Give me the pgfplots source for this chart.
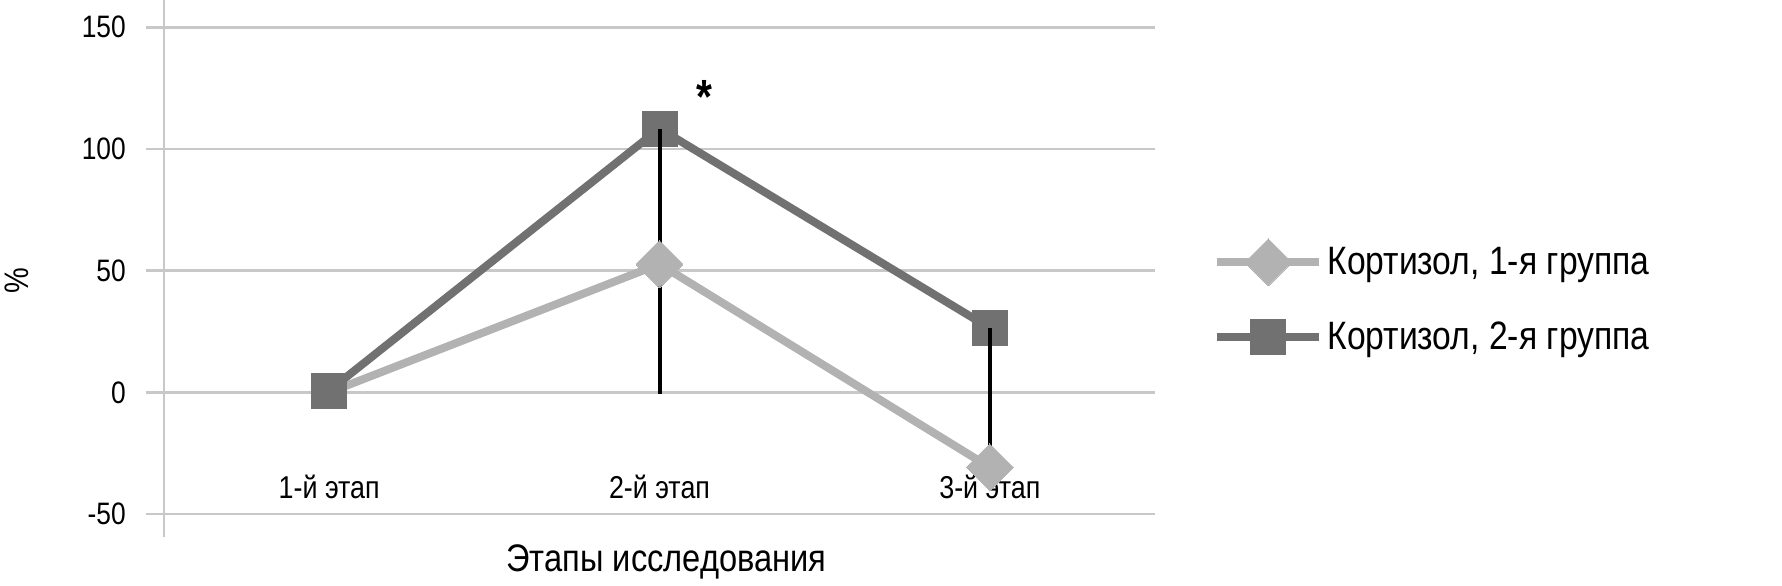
\documentclass[border=0pt]{standalone}
\usepackage{fontspec}
\setmainfont{Liberation Sans}[FakeStretch=0.85]
\usepackage{pgfplots}
\pgfplotsset{compat=1.18}
\definecolor{gridc}{RGB}{200,200,200}
\definecolor{gOne}{RGB}{178,178,178}
\definecolor{gTwo}{RGB}{113,113,113}
\pgfplotsset{
  gOneStyle/.style={gOne, line width=4pt, mark=square*, mark size=8.3pt,
    mark options={rotate=45, draw=gOne, line width=0pt, fill=gOne, solid}},
  gTwoStyle/.style={gTwo, line width=4pt, mark=square*, mark size=8.75pt,
    mark options={draw=gTwo, line width=0pt, fill=gTwo, solid}},
}
\begin{document}
\begin{tikzpicture}
\useasboundingbox (-82pt,-24.15pt) rectangle (809pt,268.35pt);
\begin{axis}[
  at={(0,0)}, anchor=south west,
  scale only axis, width=495.5pt, height=268.35pt,
  clip mode=individual,
  xmin=-0.5, xmax=2.5, ymin=-59.3, ymax=161.2,
  xtick={0,1,2}, xticklabels={1-й этап,2-й этап,3-й этап},
  ytick={-50,0,50,100,150},
  /pgf/number format/assume math mode=true,
  ymajorgrids, grid style={draw=gridc, line width=1.3pt},
  axis x line*=bottom, axis y line*=left,
  x axis line style={draw=none},
  y axis line style={draw=gridc, line width=1.3pt},
  xtick style={draw=none},
  ytick style={draw=gridc, line width=1.3pt},
  tick align=outside, major tick length=9pt,
  yticklabel style={font=\fontsize{15.5}{18}\selectfont, anchor=east, xshift=-6.6pt},
  xticklabel style={font=\fontsize{15.8}{18}\selectfont, anchor=base, yshift=28.2pt},
  ylabel={\%},
  ylabel style={at={(axis description cs:-0.1483,0.4764)}, anchor=center, font=\fontsize{17}{20}\selectfont},
  xlabel={Этапы исследования},
  xlabel style={at={(axis description cs:0.507,0)}, anchor=base, yshift=-17.5pt, font=\fontsize{19.2}{22}\selectfont},
  legend style={at={(axis description cs:1.0585,0.4457)}, anchor=west, draw=none, fill=none,
    font=\fontsize{19.8}{23}\selectfont, inner sep=0pt, nodes={inner sep=2pt}, row sep=16pt},
  legend cell align=left,
  legend image code/.code={\draw[#1, mark repeat=2, mark phase=2] plot coordinates {(0pt,0pt)(25.5pt,0pt)(51pt,0pt)};},
]
\addlegendimage{gOneStyle}
\addlegendentry{Кортизол, 1-я группа}
\addlegendimage{gTwoStyle}
\addlegendentry{Кортизол, 2-я группа}
% group 1 line (marker at stage 1 is hidden by the square)
\addplot[gOneStyle, forget plot, mark indices={2,3}]
  coordinates {(0,0) (1,52.7) (2,-30.8)};
% group 2
\addplot[gTwoStyle, forget plot]
  coordinates {(0,0.7) (1,108.4) (2,26.4)};
% error bars
\addplot[draw=none, forget plot,
  error bars/.cd, y dir=minus, y explicit, error mark=none,
  error bar style={draw=black, line width=2pt}]
  coordinates {(1,108.4) -= (0,109.1) (2,26.4) -= (0,57.2)};
% group 1 markers on top of the error bars
\addplot[gOneStyle, only marks, forget plot]
  coordinates {(1,52.7) (2,-30.8)};
\node[font=\bfseries\fontsize{24}{28}\selectfont] at (axis cs:1.135,121.5) {*};
\end{axis}
\end{tikzpicture}
\end{document}
